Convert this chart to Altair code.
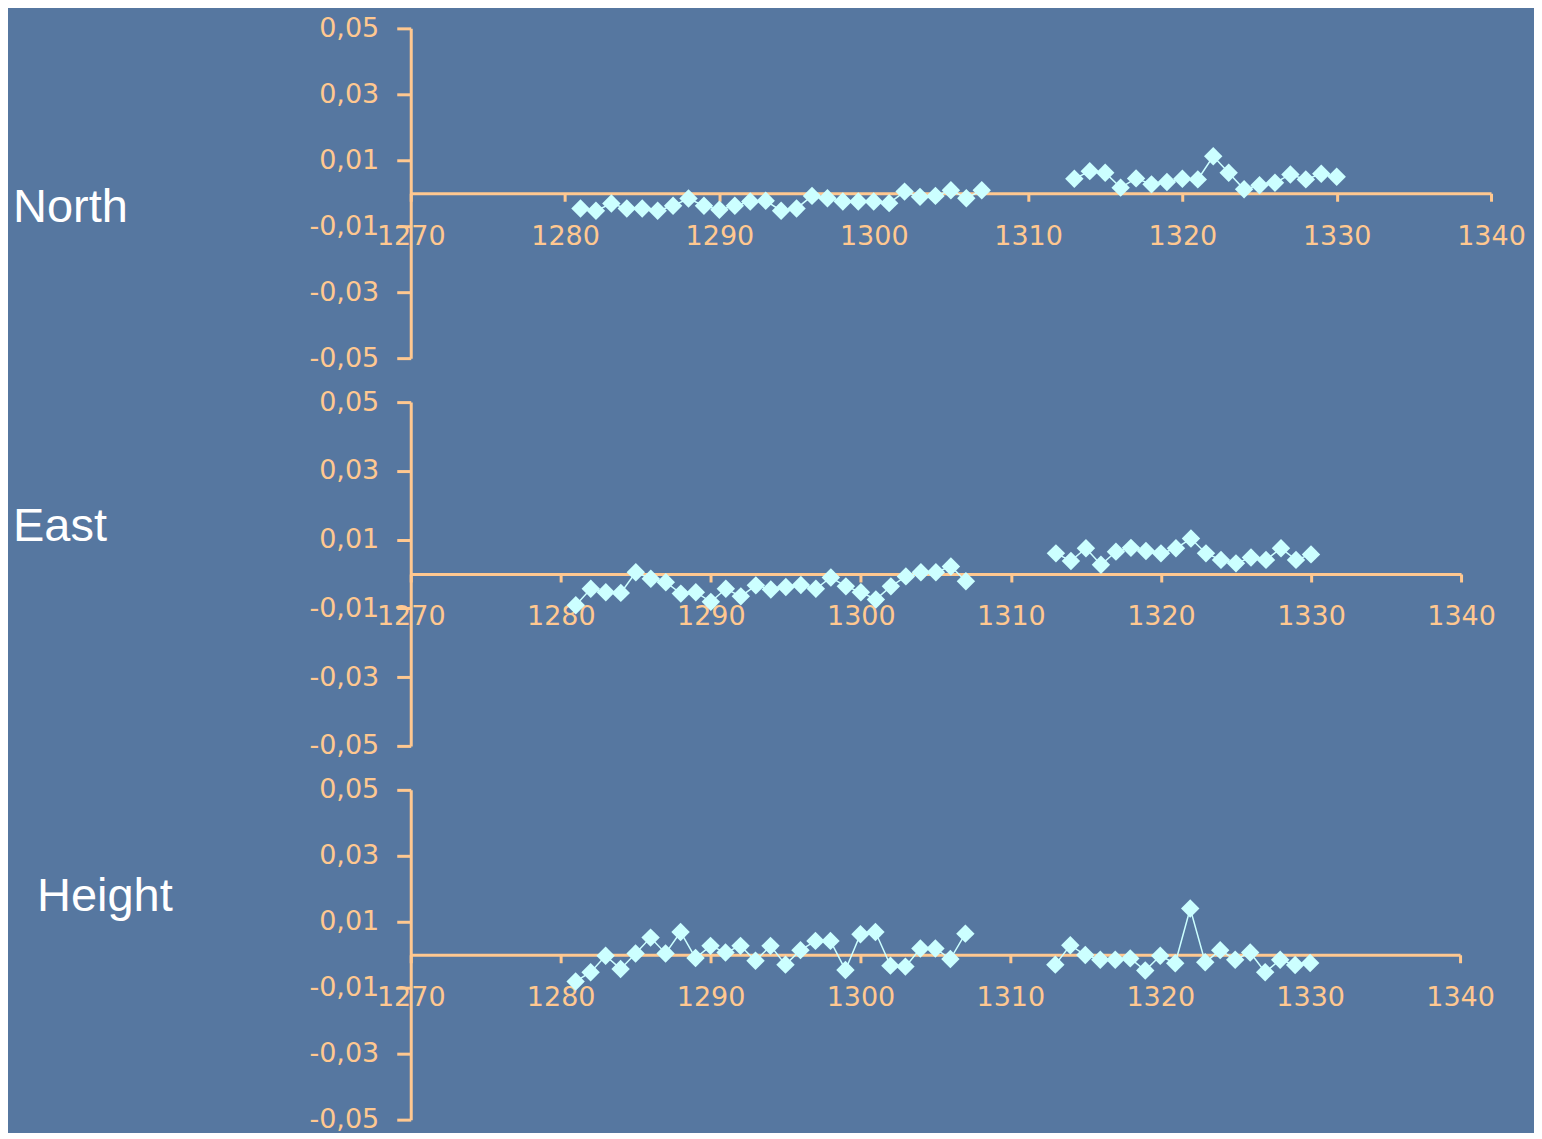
import altair as alt
import pandas as pd

# ---- data ----
years_a = list(range(1281, 1308))
years_b = list(range(1313, 1331))

north_a = [-0.0046, -0.0053, -0.0031, -0.0046, -0.0046, -0.0053, -0.0038, -0.0016, -0.0038,
           -0.0050, -0.0038, -0.0025, -0.0023, -0.0053, -0.0046, -0.0008, -0.0015, -0.0025,
           -0.0025, -0.0025, -0.0030, 0.0005, -0.0011, -0.0008, 0.0009, -0.0015, 0.0009]
north_b = [0.0044, 0.0067, 0.0062, 0.0017, 0.0045, 0.0027, 0.0034, 0.0044, 0.0042,
           0.0112, 0.0062, 0.0012, 0.0024, 0.0032, 0.0057, 0.0042, 0.0059, 0.0050]

east_a = [-0.0091, -0.0043, -0.0053, -0.0055, 0.0005, -0.0014, -0.0024, -0.0057, -0.0053,
          -0.0081, -0.0043, -0.0065, -0.0033, -0.0045, -0.0038, -0.0032, -0.0043, -0.0010,
          -0.0036, -0.0053, -0.0074, -0.0036, -0.0007, 0.0005, 0.0005, 0.0022, -0.0021]
east_b = [0.0060, 0.0038, 0.0075, 0.0027, 0.0065, 0.0076, 0.0067, 0.0060, 0.0075,
          0.0103, 0.0060, 0.0041, 0.0031, 0.0048, 0.0041, 0.0075, 0.0041, 0.0057]

height_a = [-0.0081, -0.0053, -0.0003, -0.0043, 0.0004, 0.0052, 0.0004, 0.0069, -0.0010,
            0.0027, 0.0007, 0.0027, -0.0018, 0.0027, -0.0030, 0.0014, 0.0042, 0.0042,
            -0.0046, 0.0062, 0.0069, -0.0033, -0.0036, 0.0019, 0.0019, -0.0013, 0.0064]
height_b = [-0.0030, 0.0029, -0.0001, -0.0015, -0.0015, -0.0011, -0.0048, -0.0003, -0.0026,
            0.0140, -0.0023, 0.0014, -0.0015, 0.0007, -0.0053, -0.0015, -0.0031, -0.0025]

panel_names = ["North", "East", "Height"]
y_ticks = [-0.05, -0.03, -0.01, 0.01, 0.03, 0.05]
x_ticks = [1270, 1280, 1290, 1300, 1310, 1320, 1330, 1340]

AXIS = "#FFC890"
MARK = "#CCFFFF"
BG = "#5677A0"
TICK_FONT = "DejaVu Sans"
Y_LABEL = "(datum.value < 0 ? '-' : '') + replace(format(abs(datum.value), '.2f'), '.', ',')"


def panel(name, a_vals, b_vals, width, height, tx, ty):
    df = pd.DataFrame({
        "year": years_a + years_b,
        "value": a_vals + b_vals,
        "seg": ["a"] * len(years_a) + ["b"] * len(years_b),
    })
    x = alt.X("year:Q",
              scale=alt.Scale(domain=[1270, 1340], nice=False, zero=False),
              axis=alt.Axis(values=x_ticks, format="d", title=None, grid=False,
                            offset=-height / 2, domainColor=AXIS, domainWidth=3,
                            tickColor=AXIS, tickWidth=3, tickSize=8,
                            labelColor=AXIS, labelFont=TICK_FONT, labelFontSize=27,
                            labelPadding=22, labelFlush=False, labelOverlap=False))
    y = alt.Y("value:Q",
              scale=alt.Scale(domain=[-0.05, 0.05], nice=False, zero=False),
              axis=alt.Axis(values=y_ticks, title=None, grid=False,
                            labelExpr=Y_LABEL,
                            domainColor=AXIS, domainWidth=3,
                            tickColor=AXIS, tickWidth=3, tickSize=14,
                            labelColor=AXIS, labelFont=TICK_FONT, labelFontSize=27,
                            labelPadding=18, labelOverlap=False))
    base = alt.Chart(df)
    line = base.mark_line(color=MARK, strokeWidth=1.5).encode(x=x, y=y, detail="seg:N")
    pts = base.mark_point(shape="diamond", filled=True, size=340, color=MARK,
                          opacity=1).encode(x=x, y=y)
    label = alt.Chart(pd.DataFrame({"t": [name]})).mark_text(
        align="left", baseline="alphabetic", font="Liberation Sans", fontSize=47,
        color="white").encode(x=alt.value(tx), y=alt.value(ty), text="t:N")
    return alt.layer(line, pts, label).properties(width=width, height=height)


p1 = panel(panel_names[0], north_a, north_b, 1081, 330, -398, 194)
p2 = panel(panel_names[1], east_a, east_b, 1051, 344, -398, 139)
p3 = panel(panel_names[2], height_a, height_b, 1050, 330, -374, 121)

chart = alt.vconcat(p1, p2, p3, spacing=44, bounds="flush").properties(
    background=BG,
    padding={"left": 5, "top": 6, "right": 8, "bottom": 0},
).configure_view(stroke=None)

chart.save("out.html", embed_options={"renderer": "svg", "actions": False})
